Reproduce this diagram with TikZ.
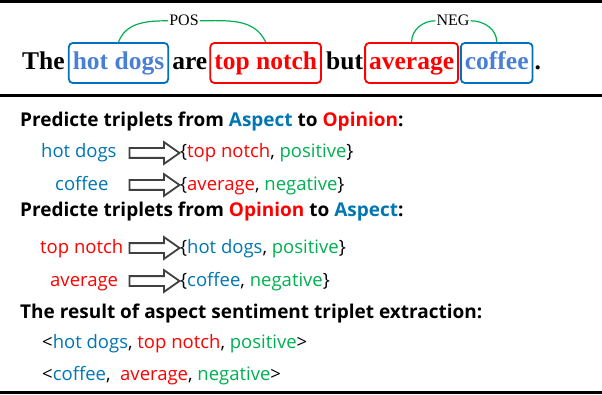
\documentclass[tikz,border=0pt]{standalone}
\usepackage{fontspec}
\usepackage{xcolor}
\setmainfont{Liberation Serif}
\newfontfamily\uifont{Open Sans}
\usetikzlibrary{positioning,shapes.arrows}

\definecolor{aspblue}{RGB}{0,118,178}
\definecolor{wordblue}{RGB}{74,127,214}
\definecolor{boxblue}{RGB}{0,112,192}
\definecolor{opred}{RGB}{255,0,0}
\definecolor{polgreen}{RGB}{0,176,80}
\definecolor{arrgray}{RGB}{64,64,64}

\newcommand{\asp}[1]{\textcolor{aspblue}{#1}}
\newcommand{\opn}[1]{\textcolor{opred}{#1}}
\newcommand{\pol}[1]{\textcolor{polgreen}{#1}}

\tikzset{
  word/.style={inner sep=0pt, font=\fontsize{25.5}{28}\selectfont\bfseries},
  aspbox/.style={word, draw=boxblue, text=wordblue, rounded corners=4pt, line width=1.8pt,
    inner xsep=4pt, inner ysep=7pt, text height=20pt, text depth=6pt},
  opnbox/.style={aspbox, draw=opred, text=opred},
  rel/.style={inner sep=1pt, font=\fontsize{16}{18}\selectfont},
  link/.style={polgreen, line width=1.2pt},
  heading/.style={anchor=base west, inner sep=0pt, font=\uifont\fontsize{19}{21}\selectfont\bfseries},
  item/.style={anchor=base west, inner sep=0pt, font=\uifont\fontsize{18.5}{21}\selectfont},
  fatarrow/.style={single arrow, draw=arrgray, line width=1.8pt, minimum height=50pt,
    inner xsep=0pt, inner ysep=4pt, text height=0pt, text depth=0pt,
    single arrow head extend=6pt, single arrow tip angle=70}
}

\begin{document}
\begin{tikzpicture}[x=1pt, y=1pt]
    \useasboundingbox (0,0) rectangle (602,394);
    % rules
    \draw[line width=3pt] (0,392) -- (602,392);
    \draw[line width=3pt] (0,298) -- (602,298);
    \draw[line width=3pt] (0,2) -- (602,2);

    % example sentence
    \node[word, anchor=base west] (the) at (22,324) {The};
    \node[aspbox, base right=3pt of the] (hotdogs) {hot dogs};
    \node[word, base right=3pt of hotdogs] (are) {are};
    \node[opnbox, base right=2pt of are] (topnotch) {top notch};
    \node[word, base right=4pt of topnotch] (but) {but};
    \node[opnbox, base right=1pt of but] (average) {average};
    \node[aspbox, base right=1pt of average] (coffee) {coffee};
    \node[word, base right=1pt of coffee] (dot) {.};

    \node[rel, anchor=base] (pos) at (184,368) {POS};
    \node[rel, anchor=base] (neg) at (453,368) {NEG};
    \draw[link] (hotdogs.north) to[out=70,in=180] (pos.west);
    \draw[link] (pos.east) to[out=0,in=115] (topnotch.north);
    \draw[link] (average.north) to[out=90,in=180] (neg.west);
    \draw[link] (neg.east) to[out=0,in=90] (coffee.north);

    % aspect -> opinion
    \node[heading] (headao) at (20,267) {Predicte triplets from \asp{Aspect} to \opn{Opinion}:};
    \node[item] (srcA) at (41,236) {\asp{hot dogs}};
    \node[fatarrow] (arrA) at (151,241) {};
    \node[item] (outA) at (180,236) {\{\opn{top notch}, \pol{positive}\}};
    \node[item] (srcB) at (55,204) {\asp{coffee}};
    \node[fatarrow] (arrB) at (151,209) {};
    \node[item] (outB) at (180,204) {\{\opn{average}, \pol{negative}\}};

    % opinion -> aspect
    \node[heading] (headoa) at (20,178) {Predicte triplets from \opn{Opinion} to \asp{Aspect}:};
    \node[item] (srcC) at (40,141) {\opn{top notch}};
    \node[fatarrow] (arrC) at (151,146) {};
    \node[item] (outC) at (180,141) {\{\asp{hot dogs}, \pol{positive}\}};
    \node[item] (srcD) at (50,108) {\opn{average}};
    \node[fatarrow] (arrD) at (151,113) {};
    \node[item] (outD) at (180,108) {\{\asp{coffee}, \pol{negative}\}};

    % result
    \node[heading] (headres) at (20,76) {The result of aspect sentiment triplet extraction:};
    \node[item] (resA) at (42,46) {<\asp{hot dogs}, \opn{top notch}, \pol{positive}>};
    \node[item] (resB) at (42,14) {<\asp{coffee},\ \ \opn{average}, \pol{negative}>};
\end{tikzpicture}
\end{document}
